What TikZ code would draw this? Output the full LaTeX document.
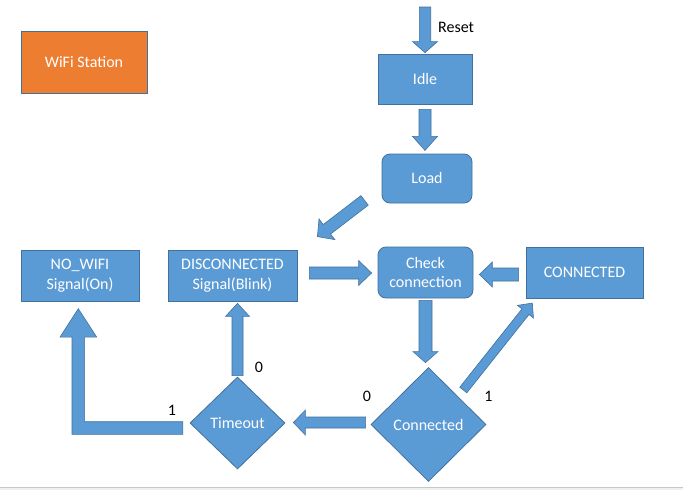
\documentclass[tikz,border=0pt]{standalone}
\usepackage{fontspec}
\setmainfont{Carlito}
\usetikzlibrary{calc,shapes.geometric}
\definecolor{bfill}{HTML}{5B9BD5}
\definecolor{bline}{HTML}{41719C}
\definecolor{ofill}{HTML}{ED7D31}
\definecolor{barline}{HTML}{C8C8C8}
\definecolor{barfill}{HTML}{F0F0F0}
\newcommand\blockarrow[5]{%
  \path ($(#2)!#5!(#1)$) coordinate (hb);
  \draw[blk] ($(#1)!#3!90:(#2)$) -- ($(hb)!#3!90:(#2)$) -- ($(hb)!#4!90:(#2)$) -- (#2)
    -- ($(hb)!#4!-90:(#2)$) -- ($(hb)!#3!-90:(#2)$) -- ($(#1)!#3!-90:(#2)$) -- cycle;}
\begin{document}
\begin{tikzpicture}[x=1pt,y=-1pt,
  font=\fontsize{16}{19.5}\selectfont,
  box/.style={draw=bline, line width=0.8pt, fill=bfill, text=white, inner sep=0pt, align=center},
  rbox/.style={box, rounded corners=8pt},
  dia/.style={box, diamond},
  blk/.style={draw=bline, line width=0.6pt, fill=bfill, line join=miter},
  lbl/.style={text=black, inner sep=0pt, anchor=base}]
\useasboundingbox (0,0) rectangle (683,490);
\fill[white] (0,0) rectangle (683,490);
\fill[barfill] (0,487) rectangle (683,490);
\draw[barline, line width=1pt] (0,487) -- (683,487);

% nodes
\node[box, fill=ofill, minimum width=126pt, minimum height=62pt] (wifi) at (84,62) {WiFi Station};
\node[box, minimum width=94pt, minimum height=50pt] (idle) at (425,79) {Idle};
\node[rbox, minimum width=90pt, minimum height=49pt] (load) at (427,178.5) {Load};
\node[box, minimum width=118pt, minimum height=51pt] (nowifi) at (80,275.5) {NO\_WIFI\\Signal(On)};
\node[box, minimum width=129pt, minimum height=51pt] (disc) at (232.5,275.5) {DISCONNECTED\\Signal(Blink)};
\node[rbox, minimum width=95pt, minimum height=51pt] (check) at (425.5,272.5) {Check\\connection};
\node[box, minimum width=117pt, minimum height=51pt] (conn) at (584.5,272.5) {CONNECTED};
\node[dia, minimum width=95pt, minimum height=92pt] (timeout) at (237.5,423) {Timeout};
\node[dia, minimum width=115pt, minimum height=114pt] (connected) at (428.5,424.5) {Connected};

% block arrows
\coordinate (r0) at (425,7);
\coordinate (r1) at ($(idle.north)+(0,-1)$);
\blockarrow{r0}{r1}{5.7pt}{12.5pt}{11pt}

\coordinate (a2s) at ($(idle.south)+(0,5)$);
\coordinate (a2t) at ($(idle.south)+(0,46)$);
\blockarrow{a2s}{a2t}{6pt}{12.5pt}{14pt}

\coordinate (a3s) at ($(load.south west)+(-17,-3)$);
\coordinate (a3t) at ($(disc.north east)+(20,-13)$);
\blockarrow{a3s}{a3t}{6pt}{13pt}{12pt}

\coordinate (a4s) at ($(disc.east)+(12,-2.5)$);
\coordinate (a4t) at ($(check.west)+(-6,0.5)$);
\blockarrow{a4s}{a4t}{6pt}{12.5pt}{13pt}

\coordinate (a5s) at ($(conn.west)+(-7,2)$);
\coordinate (a5t) at ($(check.east)+(6,2)$);
\blockarrow{a5s}{a5t}{6.5pt}{12.5pt}{13pt}

\coordinate (a6s) at ($(check.south)+(0,2)$);
\coordinate (a6t) at ($(connected.north)+(-3,-4.5)$);
\blockarrow{a6s}{a6t}{6.5pt}{12.5pt}{11pt}

\coordinate (a7s) at ($(connected.west)+(-5,-2)$);
\coordinate (a7t) at ($(timeout.east)+(8,-0.5)$);
\blockarrow{a7s}{a7t}{5.5pt}{12.5pt}{12pt}

\coordinate (a8s) at ($(timeout.north)+(0,-1)$);
\coordinate (a8t) at ($(timeout.north |- disc.south)+(0,2)$);
\blockarrow{a8s}{a8t}{5.5pt}{12pt}{13pt}

\coordinate (a9s) at ($(connected.center)+(34.8,-34.5)$);
\coordinate (a9t) at ($(conn.south west)+(6.7,4.7)$);
\blockarrow{a9s}{a9t}{4.5pt}{10.2pt}{11pt}

% L-shaped arrow Timeout -> NO_WIFI
\coordinate (lt) at ($(timeout.west)+(-6.7,5)$);
\coordinate (lh) at ($(nowifi.south)+(-1.7,7.3)$);
\draw[blk] ($(lt)+(0,-6.3)$) -- ($(lh|-lt)+(6.3,-6.3)$) -- ($(lh)+(6.3,28.4)$) -- ($(lh)+(18.4,28.4)$)
  -- (lh) -- ($(lh)+(-18.3,28.4)$) -- ($(lh)+(-6.3,28.4)$) -- ($(lh|-lt)+(-6.3,6.3)$)
  -- ($(lt)+(0,6.3)$) -- cycle;

% labels
\node[lbl, anchor=base west] (lreset) at (438,32) {Reset};
\node[lbl] (l0a) at (259,372) {0};
\node[lbl] (l1a) at (172,415) {1};
\node[lbl] (l0b) at (367,401) {0};
\node[lbl] (l1b) at (488.5,401) {1};
\end{tikzpicture}
\end{document}
